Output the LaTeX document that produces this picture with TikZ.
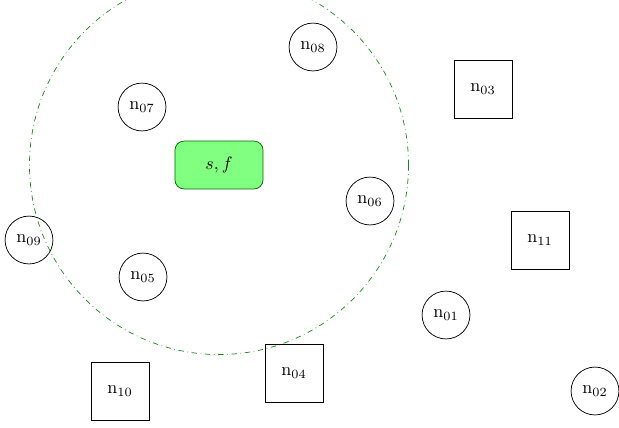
\documentclass[tikz,border=0pt]{standalone}
\definecolor{rangegreen}{RGB}{20, 140, 20}
\definecolor{agentgreen}{RGB}{128, 255, 128}
\usepackage{tikz}
\usetikzlibrary{shapes, positioning, calc}
\usepackage{amsmath, amssymb}

\begin{document}
\begin{tikzpicture}[x=0.5556pt, y=-0.5556pt,
    peer/.style={draw, circle, minimum size=26.6pt, inner sep=0pt},
    hub/.style={draw, rectangle, minimum size=32.2pt, inner sep=0pt},
    agent/.style={draw=green!40!black, fill=agentgreen, rounded corners=5pt, minimum width=48.9pt, minimum height=26.6pt}]
  \useasboundingbox (0,0) rectangle (619,427);
  % agent and its range
  \node[agent] (sf) at (219,165) {$s, f$};
  \draw[rangegreen, dash dot] (sf.center) circle (105.3pt);
  % peers
  \node[peer] (n08) at (313,47) {n$_{08}$};
  \node[peer] (n07) at (142,107) {n$_{07}$};
  \node[peer] (n06) at (370,201) {n$_{06}$};
  \node[peer] (n09) at (29,240) {n$_{09}$};
  \node[peer] (n05) at (143,277) {n$_{05}$};
  \node[peer] (n01) at (446,315) {n$_{01}$};
  \node[peer] (n02) at (595,391) {n$_{02}$};
  % hubs
  \node[hub] (n03) at (483,89) {n$_{03}$};
  \node[hub] (n11) at (540,240) {n$_{11}$};
  \node[hub] (n04) at (294,373) {n$_{04}$};
  \node[hub] (n10) at (120,391) {n$_{10}$};
\end{tikzpicture}
\end{document}
